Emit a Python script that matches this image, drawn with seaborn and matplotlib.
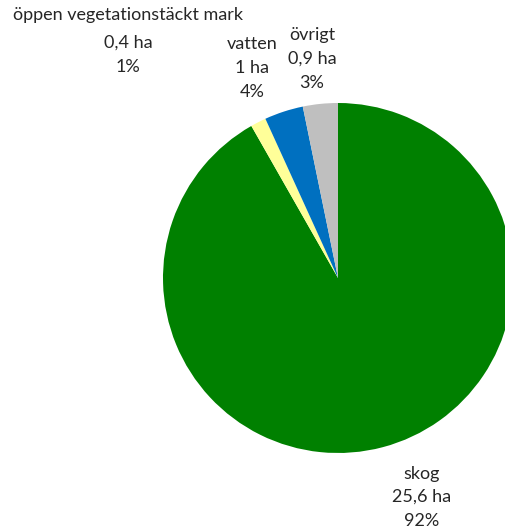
import matplotlib
matplotlib.use('Agg')
import matplotlib.pyplot as plt
import seaborn as sns

# data
categories = ['skog', 'öppen vegetationstäckt mark', 'vatten', 'övrigt']
hectares = [25.6, 0.4, 1.0, 0.9]
colors = ['#008000', '#FFFF99', '#0070C0', '#BFBFBF']

# label positions (pixels, top-left origin): x, name line y, first value line y
label_pos = [(422, 474, 497), (128, 15, 43), (252, 44, 68), (312, 35, 59)]

W, H = 505, 529
CENTER = (338, 278)
RADIUS = 175
LINE = 24  # px between text lines

sns.set_theme(style='white')
plt.rcParams['font.family'] = ['Lato', 'DejaVu Sans']

px = 1 / 100
fig = plt.figure(figsize=(W * px, H * px), dpi=100)
ax = fig.add_axes([0, 0, 1, 1])

ax.pie(hectares, colors=colors, startangle=90, counterclock=False,
       center=(CENTER[0], H - CENTER[1]), radius=RADIUS,
       wedgeprops=dict(linewidth=0))

ax.set_xlim(0, W)
ax.set_ylim(0, H)
ax.set_aspect('equal')
ax.axis('off')

total = sum(hectares)


def fmt_ha(v):
  if v == int(v):
    return f'{int(v)}'
  return f'{v:.1f}'.replace('.', ',')


for name, v, (x, y_name, y_val) in zip(categories, hectares, label_pos):
  pct = round(v / total * 100)
  lines = [(name, y_name), (f'{fmt_ha(v)} ha', y_val), (f'{pct}%', y_val + LINE)]
  for s, y in lines:
    ax.text(x, H - y, s, ha='center', va='center', fontsize=13,
            color='#262626')

fig.savefig('out.png', dpi=100)
